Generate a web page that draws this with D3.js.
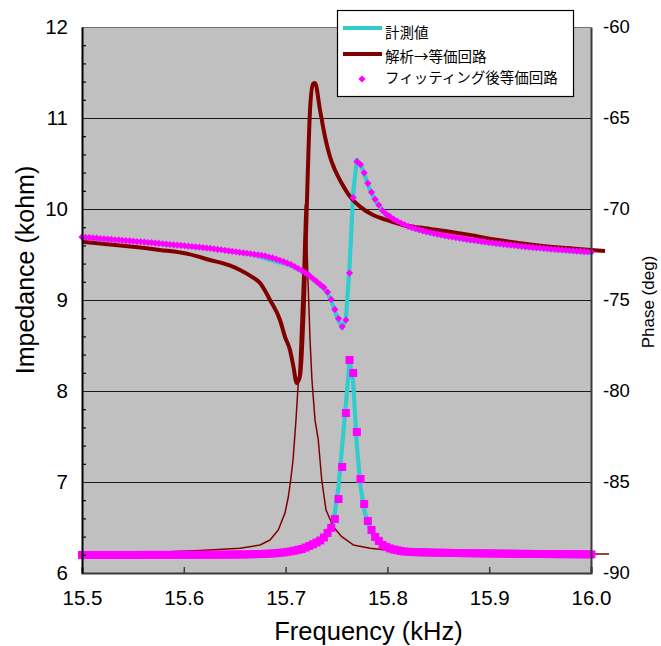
<!DOCTYPE html>
<html>
<head>
<meta charset="utf-8">
<script src="https://cdn.jsdelivr.net/npm/d3@7"></script>
<style>
  html, body { margin: 0; padding: 0; background: #ffffff; }
  svg { display: block; }
  text { font-family: "Liberation Sans", Arial, sans-serif; fill: #000; }
  .jp { font-family: "Noto Sans CJK JP", "Noto Sans", sans-serif; }
</style>
</head>
<body>
<script>
// ---------------- DATA ----------------
const xTicks = [15.5, 15.6, 15.7, 15.8, 15.9, 16.0];
const xTickLabels = ["15.5", "15.6", "15.7", "15.8", "15.9", "16.0"];
const impTicks = [6, 7, 8, 9, 10, 11, 12];
const impTickLabels = ["6", "7", "8", "9", "10", "11", "12"];
const phaseTicks = [-90, -85, -80, -75, -70, -65, -60];
const phaseTickLabels = ["-90", "-85", "-80", "-75", "-70", "-65", "-60"];

const legendLabels = ["計測値", "解析→等価回路", "フィッティング後等価回路"];

// fitted equivalent circuit (pink markers)
const fitFreq = [
 15.5000,15.5036,15.5072,15.5108,15.5144,15.5180,15.5216,15.5252,15.5288,15.5324,
 15.5360,15.5396,15.5432,15.5468,15.5504,15.5540,15.5576,15.5612,15.5648,15.5684,
 15.5720,15.5756,15.5792,15.5828,15.5864,15.5900,15.5936,15.5972,15.6008,15.6044,
 15.6080,15.6116,15.6152,15.6188,15.6224,15.6260,15.6296,15.6332,15.6368,15.6404,
 15.6440,15.6476,15.6512,15.6548,15.6584,15.6620,15.6656,15.6692,15.6728,15.6764,
 15.6800,15.6836,15.6872,15.6908,15.6944,15.6980,15.7016,15.7052,15.7088,15.7124,
 15.7160,15.7196,15.7232,15.7268,15.7304,15.7340,15.7376,15.7412,15.7448,15.7484,
 15.7520,15.7556,15.7592,15.7628,15.7664,15.7700,15.7736,15.7772,15.7808,15.7844,
 15.7880,15.7916,15.7952,15.7988,15.8024,15.8060,15.8096,15.8132,15.8168,15.8204,
 15.8240,15.8276,15.8312,15.8348,15.8384,15.8420,15.8456,15.8492,15.8528,15.8564,
 15.8600,15.8636,15.8672,15.8708,15.8744,15.8780,15.8816,15.8852,15.8888,15.8924,
 15.8960,15.8996,15.9032,15.9068,15.9104,15.9140,15.9176,15.9212,15.9248,15.9284,
 15.9320,15.9356,15.9392,15.9428,15.9464,15.9500,15.9536,15.9572,15.9608,15.9644,
 15.9680,15.9716,15.9752,15.9788,15.9824,15.9860,15.9896,15.9932,15.9968,16.0004
];
const fitImp = [
 6.198,6.198,6.198,6.198,6.198,6.198,6.198,6.198,6.198,6.198,
 6.198,6.198,6.198,6.198,6.198,6.198,6.199,6.199,6.199,6.199,
 6.199,6.199,6.199,6.199,6.199,6.199,6.200,6.200,6.200,6.200,
 6.200,6.200,6.200,6.200,6.201,6.201,6.201,6.201,6.201,6.202,
 6.202,6.203,6.203,6.204,6.204,6.205,6.206,6.207,6.208,6.209,
 6.211,6.213,6.215,6.218,6.222,6.226,6.232,6.238,6.246,6.255,
 6.264,6.280,6.297,6.315,6.335,6.357,6.390,6.440,6.495,6.593,
 6.813,7.165,7.758,8.341,8.198,7.549,7.033,6.758,6.571,6.473,
 6.396,6.352,6.308,6.286,6.270,6.258,6.250,6.242,6.236,6.233,
 6.231,6.229,6.228,6.227,6.226,6.225,6.224,6.223,6.222,6.222,
 6.221,6.220,6.220,6.219,6.218,6.218,6.217,6.217,6.216,6.216,
 6.215,6.215,6.214,6.214,6.213,6.213,6.212,6.212,6.211,6.211,
 6.210,6.210,6.210,6.209,6.209,6.209,6.208,6.208,6.208,6.208,
 6.207,6.207,6.207,6.206,6.206,6.206,6.206,6.205,6.205,6.205
];
const fitPhase = [
 -71.54,-71.56,-71.57,-71.59,-71.60,-71.62,-71.64,-71.65,-71.67,-71.69,
 -71.70,-71.72,-71.74,-71.75,-71.77,-71.79,-71.80,-71.82,-71.84,-71.85,
 -71.87,-71.89,-71.91,-71.93,-71.95,-71.97,-71.98,-72.00,-72.02,-72.04,
 -72.06,-72.08,-72.10,-72.12,-72.14,-72.16,-72.19,-72.22,-72.24,-72.27,
 -72.30,-72.33,-72.35,-72.38,-72.41,-72.43,-72.46,-72.49,-72.52,-72.55,
 -72.58,-72.64,-72.69,-72.75,-72.82,-72.89,-72.97,-73.05,-73.16,-73.27,
 -73.38,-73.52,-73.65,-73.82,-73.98,-74.15,-74.31,-74.56,-74.97,-75.52,
 -76.02,-76.46,-76.10,-73.52,-69.38,-67.39,-67.56,-68.01,-68.59,-69.08,
 -69.47,-69.78,-70.08,-70.28,-70.41,-70.55,-70.66,-70.77,-70.86,-70.95,
 -71.02,-71.08,-71.14,-71.20,-71.25,-71.29,-71.34,-71.38,-71.42,-71.46,
 -71.50,-71.53,-71.57,-71.60,-71.63,-71.67,-71.70,-71.72,-71.75,-71.78,
 -71.81,-71.84,-71.86,-71.89,-71.91,-71.94,-71.96,-71.98,-72.00,-72.03,
 -72.05,-72.07,-72.09,-72.11,-72.13,-72.14,-72.16,-72.18,-72.20,-72.22,
 -72.23,-72.25,-72.26,-72.28,-72.29,-72.31,-72.32,-72.34,-72.35,-72.36
];

// measured (cyan lines)
const measImpFreq = [15.500,15.550,15.600,15.650,15.680,15.7016,15.7124,15.7232,15.7304,15.7376,
 15.7412,15.7448,15.7484,15.7520,15.7556,15.7592,15.7628,15.7664,15.7700,15.7736,
 15.7772,15.7808,15.7844,15.7880,15.7916,15.7988,15.8096,15.8240,15.8564,15.9032,15.9500,16.0004];
const measImp = [6.195,6.195,6.197,6.202,6.209,6.230,6.262,6.295,6.330,6.392,
 6.440,6.520,6.660,6.950,7.400,7.850,8.330,8.100,7.400,6.950,
 6.700,6.540,6.450,6.380,6.340,6.285,6.252,6.233,6.222,6.214,6.210,6.205];
const measPhFreq = [15.500,15.530,15.560,15.590,15.620,15.650,15.670,15.690,15.7016,15.7088,
 15.7160,15.7232,15.7304,15.7376,15.7412,15.7448,15.7484,15.7520,15.7556,15.7592,
 15.7628,15.7664,15.7700,15.7736,15.7772,15.7808,15.7844,15.7880,15.7916,15.7952,
 15.8024,15.8096,15.8168,15.8240,15.8384,15.8564,15.8780,15.9032,15.9320,15.9644,16.0004];
const measPhase = [-71.58,-71.70,-71.82,-71.98,-72.14,-72.36,-72.53,-72.88,-73.03,-73.22,
 -73.44,-73.70,-74.03,-74.37,-74.62,-75.05,-75.62,-76.12,-76.55,-76.05,
 -73.20,-69.10,-67.30,-67.55,-68.05,-68.65,-69.13,-69.52,-69.83,-70.12,
 -70.45,-70.70,-70.90,-71.06,-71.30,-71.50,-71.71,-71.90,-72.09,-72.26,-72.41];

// analysis -> equivalent circuit (dark red)
const anaImpFreq = [15.500,15.5668,15.6159,15.6552,15.6749,15.6847,15.6928,15.6994,15.7027,15.7050,
 15.7073,15.7102,15.7132,15.7151,15.7171,15.7186,15.7193,15.7205,15.7220,15.7240,
 15.7259,15.7289,15.7321,15.7355,15.7397,15.7469,15.7551,15.7665,15.7829,15.7993,
 15.8615,15.9303,16.0000,16.0177];
const anaImp = [6.220,6.225,6.247,6.271,6.308,6.363,6.473,6.659,6.838,7.022,
 7.242,7.681,8.231,8.780,9.330,9.879,10.044,9.769,9.220,8.560,
 8.121,7.681,7.462,7.022,6.692,6.509,6.399,6.308,6.271,6.253,
 6.231,6.220,6.209,6.209];
const anaPhFreq = [15.500,15.5400,15.5766,15.6050,15.6257,15.6450,15.6552,15.6650,15.6749,15.6847,
 15.6945,15.6994,15.7043,15.7076,15.7109,15.7141,15.7181,15.7210,15.7240,15.7269,
 15.7289,15.7338,15.7387,15.7436,15.7485,15.7551,15.7633,15.7731,15.7859,15.7993,
 15.8153,15.8320,15.8566,15.8811,15.9057,15.9303,15.9548,15.9794,16.0000,16.0138];
const anaPhase = [-71.80,-72.02,-72.25,-72.48,-72.80,-73.10,-73.35,-73.66,-74.07,-75.00,
 -76.10,-77.02,-77.75,-78.63,-79.56,-79.18,-75.00,-69.51,-64.56,-63.13,
 -63.08,-64.56,-66.03,-67.13,-67.86,-68.59,-69.32,-69.87,-70.33,-70.60,
 -70.88,-71.02,-71.21,-71.43,-71.68,-71.88,-72.05,-72.16,-72.25,-72.31];

// ---------------- CHART ----------------
const W = 661, H = 646;
const plot = {left: 82, right: 591, top: 27, bottom: 573};
const COL_CYAN = "#33cccc", COL_BROWN = "#800000", COL_PINK = "#ff00ff", COL_BG = "#c0c0c0";

const svg = d3.select("body").append("svg").attr("width", W).attr("height", H);

const x = d3.scaleLinear().domain([15.5, 16.0]).range([plot.left, plot.right]);
const yL = d3.scaleLinear().domain([6, 12]).range([plot.bottom, plot.top]);
const yR = d3.scaleLinear().domain([-90, -60]).range([plot.bottom, plot.top]);

// plot background
svg.append("rect")
  .attr("x", plot.left).attr("y", plot.top)
  .attr("width", plot.right - plot.left).attr("height", plot.bottom - plot.top)
  .attr("fill", COL_BG);

// gridlines (major impedance ticks)
svg.append("g").selectAll("line")
  .data(impTicks.filter(d => d > 6))
  .join("line")
  .attr("x1", plot.left).attr("x2", plot.right)
  .attr("y1", d => Math.round(yL(d)) + 0.5).attr("y2", d => Math.round(yL(d)) + 0.5)
  .attr("stroke", d => d === 12 ? "#6e6e6e" : "#1a1a1a")
  .attr("stroke-width", 1.2);

// ---- series ----
const lineL = d3.line().x(d => x(d[0])).y(d => yL(d[1]));
const lineR = d3.line().x(d => x(d[0])).y(d => yR(d[1]));
const lineRSmooth = d3.line().x(d => x(d[0])).y(d => yR(d[1])).curve(d3.curveMonotoneX);

// measured (cyan)
svg.append("path").datum(d3.zip(measPhFreq, measPhase))
  .attr("d", lineR).attr("fill", "none").attr("stroke", COL_CYAN)
  .attr("stroke-width", 4.2).attr("stroke-linejoin", "round");
svg.append("path").datum(d3.zip(measImpFreq, measImp))
  .attr("d", lineL).attr("fill", "none").attr("stroke", COL_CYAN)
  .attr("stroke-width", 4.2).attr("stroke-linejoin", "round");

// analysis (dark red)
svg.append("path").datum(d3.zip(anaImpFreq, anaImp))
  .attr("d", lineL).attr("fill", "none").attr("stroke", COL_BROWN)
  .attr("stroke-width", 1.5).attr("stroke-linejoin", "round");
svg.append("path").datum(d3.zip(anaPhFreq, anaPhase))
  .attr("d", lineRSmooth).attr("fill", "none").attr("stroke", COL_BROWN)
  .attr("stroke-width", 4).attr("stroke-linejoin", "round");

// fitted (pink markers)
const diamond = "M0,-3.6L3.6,0L0,3.6L-3.6,0Z";
svg.append("g").selectAll("rect")
  .data(d3.zip(fitFreq, fitImp))
  .join("rect")
  .attr("x", d => x(d[0]) - 4).attr("y", d => yL(d[1]) - 4)
  .attr("width", 8).attr("height", 8)
  .attr("fill", COL_PINK);
svg.append("g").selectAll("path")
  .data(d3.zip(fitFreq, fitPhase))
  .join("path")
  .attr("transform", d => `translate(${x(d[0])},${yR(d[1])})`)
  .attr("d", diamond)
  .attr("fill", COL_PINK);

// ---- axes ----
// bottom axis
const xAxis = svg.append("g")
  .attr("transform", `translate(0,${plot.bottom})`)
  .call(d3.axisBottom(x).tickValues(xTicks).tickSize(-6).tickPadding(17)
        .tickFormat((d, i) => xTickLabels[i]));
xAxis.select(".domain").attr("stroke", "#3a3a3a").attr("stroke-width", 2);
xAxis.selectAll(".tick line").attr("stroke", "#3a3a3a").attr("stroke-width", 1.5);
xAxis.selectAll("text").attr("font-size", 20.5).style("font-family", "Liberation Sans, Arial, sans-serif");

// left axis
const yAxis = svg.append("g")
  .attr("transform", `translate(${plot.left},0)`)
  .call(d3.axisLeft(yL).tickValues(impTicks).tickSize(0).tickPadding(14)
        .tickFormat((d, i) => impTickLabels[i]));
yAxis.select(".domain").attr("stroke", "#000").attr("stroke-width", 2);
yAxis.selectAll("text").attr("font-size", 20.5).style("font-family", "Liberation Sans, Arial, sans-serif");
// minor ticks on left axis
const minor = d3.range(6.2, 12, 0.2).filter(v => Math.abs(v - Math.round(v)) > 0.05);
svg.append("g").attr("transform", `translate(${plot.left},0)`)
  .call(d3.axisLeft(yL).tickValues(minor).tickSize(-4).tickFormat(""))
  .call(g => g.select(".domain").remove())
  .selectAll(".tick line").attr("stroke", "#000").attr("stroke-width", 1.2);

// right axis
const rAxis = svg.append("g")
  .attr("transform", `translate(${plot.right},0)`)
  .call(d3.axisRight(yR).tickValues(phaseTicks).tickSize(0).tickPadding(12)
        .tickFormat((d, i) => phaseTickLabels[i]));
rAxis.select(".domain").attr("stroke", "#3a3a3a").attr("stroke-width", 2);
rAxis.selectAll("text").attr("font-size", 18.5).style("font-family", "Liberation Sans, Arial, sans-serif");

// axis titles
svg.append("text")
  .attr("x", (plot.left + plot.right) / 2 + 32).attr("y", 640)
  .attr("text-anchor", "middle").attr("font-size", 25.5)
  .text("Frequency (kHz)");
svg.append("text")
  .attr("transform", `translate(34,270) rotate(-90)`)
  .attr("text-anchor", "middle").attr("font-size", 25)
  .text("Impedance (kohm)");
svg.append("text")
  .attr("transform", `translate(654,302) rotate(-90)`)
  .attr("text-anchor", "middle").attr("font-size", 17)
  .text("Phase (deg)");

// ---- legend ----
const lg = svg.append("g");
lg.append("rect").attr("x", 337.5).attr("y", 10.5).attr("width", 236).attr("height", 86)
  .attr("fill", "#fff").attr("stroke", "#000").attr("stroke-width", 1.2);
const legY = [28, 54, 79];
lg.append("line").attr("x1", 343).attr("x2", 382).attr("y1", legY[0]).attr("y2", legY[0])
  .attr("stroke", COL_CYAN).attr("stroke-width", 4.2);
lg.append("line").attr("x1", 343).attr("x2", 382).attr("y1", legY[1]).attr("y2", legY[1])
  .attr("stroke", COL_BROWN).attr("stroke-width", 4);
lg.append("path").attr("transform", `translate(362,${legY[2]})`).attr("d", diamond)
  .attr("fill", COL_PINK);
const legTextY = [38, 61.5, 83];
legendLabels.forEach((t, i) => {
  lg.append("text").attr("class", "jp")
    .attr("x", 385).attr("y", legTextY[i])
    .attr("font-size", 14.5)
    .style("font-family", "'Noto Sans CJK JP', sans-serif")
    .text(t);
});
</script>
</body>
</html>
